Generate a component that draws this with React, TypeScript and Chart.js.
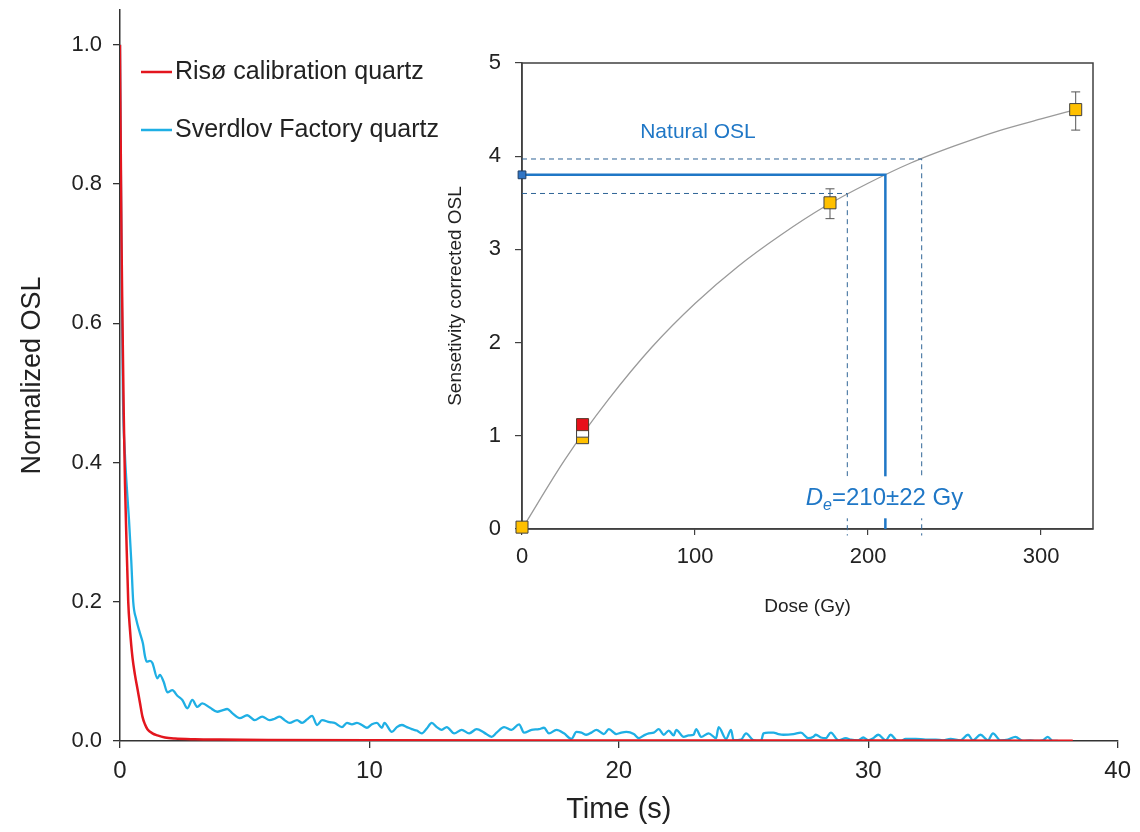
import React, { useEffect, useRef } from 'react';
import { Chart, registerables } from 'chart.js';

Chart.register(...registerables);

// ---------- Main chart data ----------
const seriesNames = ['Risø calibration quartz', 'Sverdlov Factory quartz'];

const timeRed = [0, 0.03, 0.06, 0.1, 0.15, 0.2, 0.25, 0.33, 0.4, 0.5, 0.6, 0.7, 0.8, 0.9, 1.0, 1.1, 1.3, 1.5, 1.8, 2.2, 3, 4, 6, 10, 20, 30, 38.2];
const oslRed = [1.0, 0.85, 0.72, 0.6, 0.47, 0.37, 0.3, 0.2, 0.16, 0.12, 0.095, 0.075, 0.055, 0.035, 0.024, 0.017, 0.011, 0.008, 0.005, 0.0035, 0.0025, 0.002, 0.0015, 0.001, 0.0008, 0.0006, 0.0005];

const timeBlue = [
  0, 0.04, 0.08, 0.12, 0.2, 0.3, 0.36, 0.45, 0.53, 0.65, 0.8, 0.92, 1.0, 1.07, 1.2, 1.3, 1.5, 1.6, 1.75, 1.9,
  2.1, 2.3, 2.5, 2.7, 2.9, 3.1, 3.3, 3.6, 3.9, 4.1, 4.3, 4.5, 4.8, 5.1, 5.4, 5.7, 6.0, 6.2, 6.4, 6.6,
  6.8, 7.1, 7.3, 7.5, 7.7, 7.9, 8.1, 8.4, 8.6, 8.9, 9.1, 9.3, 9.5, 9.7, 9.9, 10.1, 10.3, 10.5, 10.6, 10.9,
  11.1, 11.3, 11.5, 11.7, 11.9, 12.1, 12.3, 12.5, 12.7, 12.9, 13.1, 13.4, 13.7, 14.0, 14.3, 14.6, 14.9, 15.1, 15.4, 15.7,
  16.0, 16.2, 16.5, 16.8, 17.0, 17.2, 17.5, 17.8, 18.1, 18.3, 18.5, 18.7, 18.9, 19.1, 19.4, 19.6, 19.9, 20.1, 20.3, 20.6,
  20.8, 21.0, 21.2, 21.4, 21.6, 21.8, 22.0, 22.2, 22.3, 22.6, 22.8, 23.0, 23.1, 23.3, 23.6, 23.9, 24.0, 24.3, 24.5, 24.6,
  24.9, 25.1, 25.4, 25.7, 25.8, 26.0, 26.2, 26.4, 26.6, 27.0, 27.3, 27.6, 27.8, 27.9, 28.1, 28.3, 28.5, 28.8, 29.1, 29.3,
  29.6, 29.8, 30.0, 30.2, 30.4, 30.7, 30.9, 31.1, 31.3, 31.5, 31.9, 32.3, 32.7, 33.0, 33.3, 33.7, 34.0, 34.2, 34.5, 34.8,
  35.0, 35.3, 35.6, 35.9, 36.2, 36.5, 36.7, 37.0, 37.2, 37.4, 37.6
];
const oslBlue = [
  1.0, 0.8, 0.62, 0.49, 0.41, 0.35, 0.318, 0.26, 0.2, 0.175, 0.155, 0.14, 0.122, 0.114, 0.115, 0.112, 0.09, 0.095, 0.085, 0.07,
  0.073, 0.065, 0.059, 0.047, 0.059, 0.049, 0.054, 0.048, 0.042, 0.044, 0.046, 0.04, 0.033, 0.037, 0.03, 0.035, 0.03, 0.032, 0.035, 0.03,
  0.026, 0.03, 0.026, 0.031, 0.036, 0.023, 0.03, 0.027, 0.026, 0.02, 0.026, 0.024, 0.026, 0.023, 0.019, 0.024, 0.026, 0.019, 0.026, 0.013,
  0.02, 0.023, 0.02, 0.017, 0.015, 0.011, 0.018, 0.026, 0.02, 0.016, 0.02, 0.011, 0.016, 0.011, 0.017, 0.012, 0.006, 0.012, 0.02, 0.016,
  0.024, 0.012, 0.016, 0.017, 0.019, 0.011, 0.016, 0.011, 0.003, 0.013, 0.012, 0.009, 0.012, 0.016, 0.01, 0.017, 0.01, 0.012, 0.013, 0.01,
  0.004, 0.008, 0.011, 0.012, 0.017, 0.009, 0.015, 0.008, 0.016, 0.006, 0.008, 0.009, 0.017, 0.006, 0.011, 0.004, 0.02, 0.003, 0.016, 0.001,
  0.002, 0.011, 0.001, 0.0, 0.011, 0.012, 0.012, 0.01, 0.009, 0.01, 0.012, 0.004, 0.006, 0.009, 0.005, 0.004, 0.012, 0.001, 0.004, 0.002,
  0.001, 0.005, 0.001, 0.004, 0.009, 0.001, 0.009, 0.002, 0.0, 0.003, 0.003, 0.002, 0.002, 0.001, 0.003, 0.001, 0.009, 0.001, 0.009, 0.001,
  0.011, 0.001, 0.002, 0.006, 0.0, 0.001, 0.0, 0.001, 0.006, 0.0, 0.0
];

const mainXTicks = [0, 10, 20, 30, 40];
const mainYTicks = [0, 0.2, 0.4, 0.6, 0.8, 1.0];

// ---------- Inset (dose response) data ----------
const regenDose = [0, 35, 178, 320];
const regenOsl = [0.02, 0.98, 3.5, 4.5];
const regenErrLow = [0.02, 0.98, 3.33, 4.28];
const regenErrHigh = [0.02, 0.98, 3.65, 4.69];

const recycleDose = [35];
const recycleOsl = [1.12];
const zeroCheckDose = [35];
const zeroCheckOsl = [1.05];

const naturalDose = [0];
const naturalOsl = [3.8];

const fitDose = [0, 25, 50, 75, 100, 125, 150, 175, 200, 225, 250, 275, 300, 320];
const fitOsl = [0, 0.75, 1.39, 1.95, 2.42, 2.82, 3.16, 3.46, 3.71, 3.93, 4.11, 4.27, 4.40, 4.50];

const deValue = 210;
const deLow = 188;
const deHigh = 231;
const naturalLow = 3.6;
const naturalHigh = 3.97;

const insetXTicks = [0, 100, 200, 300];
const insetYTicks = [0, 1, 2, 3, 4, 5];

const FONT = "'Liberation Sans', Arial, sans-serif";
const RED = '#E3161E';
const CYAN = '#1FAFE4';
const GUIDE_BLUE = '#1F77C6';
const DASH_COLOR = '#2F6497';
const TEXT = '#222222';
const AXIS = '#333333';

const mainLegendPlugin = {
  id: 'mainLegend',
  afterDraw(chart: any) {
    const { ctx } = chart;
    const rows = [72, 130];
    ctx.save();
    chart.data.datasets.forEach((ds: any, i: number) => {
      const y = rows[i];
      ctx.strokeStyle = ds.borderColor;
      ctx.lineWidth = 2.5;
      ctx.beginPath();
      ctx.moveTo(141, y);
      ctx.lineTo(172, y);
      ctx.stroke();
      ctx.fillStyle = TEXT;
      ctx.font = `25px ${FONT}`;
      ctx.textBaseline = 'middle';
      ctx.textAlign = 'left';
      ctx.fillText(ds.label, 175, y);
    });
    ctx.restore();
  },
};

const insetPlugin = {
  id: 'insetDecor',
  beforeDatasetsDraw(chart: any) {
    const { ctx, chartArea, scales } = chart;
    const x = scales.x;
    const y = scales.y;
    ctx.save();
    ctx.strokeStyle = '#404040';
    ctx.lineWidth = 1.5;
    ctx.strokeRect(chartArea.left, chartArea.top, chartArea.right - chartArea.left, chartArea.bottom - chartArea.top);
    ctx.strokeStyle = '#555555';
    ctx.lineWidth = 1;
    regenDose.forEach((d, i) => {
      const lo = regenErrLow[i];
      const hi = regenErrHigh[i];
      if (hi - lo <= 0) return;
      const px = x.getPixelForValue(d);
      const p1 = y.getPixelForValue(lo);
      const p2 = y.getPixelForValue(hi);
      ctx.beginPath();
      ctx.moveTo(px, p1);
      ctx.lineTo(px, p2);
      ctx.moveTo(px - 4.5, p1);
      ctx.lineTo(px + 4.5, p1);
      ctx.moveTo(px - 4.5, p2);
      ctx.lineTo(px + 4.5, p2);
      ctx.stroke();
    });
    ctx.restore();
  },
  afterDatasetsDraw(chart: any) {
    const { ctx, scales } = chart;
    const x = scales.x;
    const y = scales.y;
    ctx.save();
    // Natural OSL label
    ctx.fillStyle = GUIDE_BLUE;
    ctx.font = `21px ${FONT}`;
    ctx.textAlign = 'center';
    ctx.textBaseline = 'middle';
    ctx.fillText('Natural OSL', x.getPixelForValue(101.7), y.getPixelForValue(4.26));

    // De label with white background
    const left = x.getPixelForValue(164);
    const cy = y.getPixelForValue(0.34);
    ctx.textAlign = 'left';
    ctx.textBaseline = 'alphabetic';
    ctx.font = `italic 24px ${FONT}`;
    const w1 = ctx.measureText('D').width;
    ctx.font = `italic 16px ${FONT}`;
    const w2 = ctx.measureText('e').width;
    ctx.font = `24px ${FONT}`;
    const rest = '=210±22 Gy';
    const w3 = ctx.measureText(rest).width;
    ctx.fillStyle = '#FFFFFF';
    ctx.fillRect(left - 2, cy - 21, w1 + w2 + w3 + 4, 42);
    ctx.fillStyle = GUIDE_BLUE;
    const base = cy + 8;
    ctx.font = `italic 24px ${FONT}`;
    ctx.fillText('D', left, base);
    ctx.font = `italic 16px ${FONT}`;
    ctx.fillText('e', left + w1, base + 5);
    ctx.font = `24px ${FONT}`;
    ctx.fillText(rest, left + w1 + w2, base);
    ctx.restore();
  },
};

const pts = (xs: number[], ys: number[]) => xs.map((v, i) => ({ x: v, y: ys[i] }));

export default function App() {
  const mainRef = useRef<HTMLCanvasElement>(null);
  const insetRef = useRef<HTMLCanvasElement>(null);

  useEffect(() => {
    if (!mainRef.current || !insetRef.current) return;

    const main = new Chart(mainRef.current, {
      type: 'line',
      data: {
        datasets: [
          {
            label: seriesNames[0],
            data: pts(timeRed, oslRed),
            borderColor: RED,
            borderWidth: 2.5,
            pointRadius: 0,
            cubicInterpolationMode: 'monotone',
            fill: false,
          },
          {
            label: seriesNames[1],
            data: pts(timeBlue, oslBlue),
            borderColor: CYAN,
            borderWidth: 2.3,
            pointRadius: 0,
            cubicInterpolationMode: 'monotone',
            fill: false,
          },
        ],
      } as any,
      options: {
        animation: false,
        responsive: false,
        devicePixelRatio: 1,
        layout: { padding: { left: 0, right: 22, top: 10, bottom: 0 } },
        plugins: { legend: { display: false }, tooltip: { enabled: false } },
        scales: {
          x: {
            type: 'linear',
            min: 0,
            max: 40,
            afterBuildTicks: (s: any) => { s.ticks = mainXTicks.map((v) => ({ value: v })); },
            afterFit: (s: any) => { s.height = 91; },
            grid: { display: true, drawOnChartArea: false, drawTicks: true, tickLength: 7, color: AXIS, lineWidth: 1.3 },
            border: { display: true, color: AXIS, width: 1.5 },
            ticks: { font: { family: FONT, size: 24 }, color: TEXT, padding: 9, maxRotation: 0 },
            title: { display: true, text: 'Time (s)', font: { family: FONT, size: 29 }, color: TEXT, padding: { top: 0, bottom: 5 } },
          },
          y: {
            type: 'linear',
            min: 0,
            max: 1.05,
            afterBuildTicks: (s: any) => { s.ticks = mainYTicks.map((v) => ({ value: v })); },
            afterFit: (s: any) => { s.width = 120; s.paddingTop = 0; s.paddingBottom = 0; },
            grid: { display: true, drawOnChartArea: false, drawTicks: true, tickLength: 7, color: AXIS, lineWidth: 1.3 },
            border: { display: true, color: AXIS, width: 1.5 },
            ticks: { font: { family: FONT, size: 22 }, color: TEXT, padding: 11, callback: (v: any) => Number(v).toFixed(1) },
            title: { display: true, text: 'Normalized OSL', font: { family: FONT, size: 27 }, color: TEXT, padding: { top: 16, bottom: 0 } },
          },
        },
      } as any,
      plugins: [mainLegendPlugin],
    });

    const inset = new Chart(insetRef.current, {
      type: 'line',
      data: {
        datasets: [
          {
            label: 'Recycling',
            data: pts(recycleDose, recycleOsl),
            showLine: false,
            pointStyle: 'rect',
            pointRadius: 8.5,
            backgroundColor: '#E8101A',
            borderColor: '#5a3a2a',
            borderWidth: 1,
            clip: false,
          },
          {
            label: 'Recycling 2',
            data: pts(zeroCheckDose, zeroCheckOsl),
            showLine: false,
            pointStyle: 'rect',
            pointRadius: 8.5,
            backgroundColor: '#FFFFFF',
            borderColor: '#404040',
            borderWidth: 1,
            clip: false,
          },
          {
            label: 'Regenerated',
            data: pts(regenDose, regenOsl),
            showLine: false,
            pointStyle: 'rect',
            pointRadius: 8.5,
            backgroundColor: '#FFC000',
            borderColor: '#404040',
            borderWidth: 1,
            clip: false,
          },
          {
            label: 'Natural',
            data: pts(naturalDose, naturalOsl),
            showLine: false,
            pointStyle: 'rect',
            pointRadius: 5.5,
            backgroundColor: '#2E75C6',
            borderColor: '#1F3F66',
            borderWidth: 1,
            clip: false,
          },
          {
            label: 'De',
            data: [
              { x: 0, y: naturalOsl[0] },
              { x: deValue, y: naturalOsl[0] },
              { x: deValue, y: 0 },
            ],
            borderColor: GUIDE_BLUE,
            borderWidth: 2.5,
            pointRadius: 0,
            tension: 0,
            clip: false,
          },
          {
            label: 'De high',
            data: [
              { x: 0, y: naturalHigh },
              { x: deHigh, y: naturalHigh },
              { x: deHigh, y: -0.07 },
            ],
            borderColor: DASH_COLOR,
            borderWidth: 1,
            borderDash: [5, 4],
            pointRadius: 0,
            tension: 0,
            clip: false,
          },
          {
            label: 'De low',
            data: [
              { x: 0, y: naturalLow },
              { x: deLow, y: naturalLow },
              { x: deLow, y: -0.07 },
            ],
            borderColor: DASH_COLOR,
            borderWidth: 1,
            borderDash: [5, 4],
            pointRadius: 0,
            tension: 0,
            clip: false,
          },
          {
            label: 'Fit',
            data: pts(fitDose, fitOsl),
            borderColor: '#9A9A9A',
            borderWidth: 1.3,
            pointRadius: 0,
            cubicInterpolationMode: 'monotone',
            clip: false,
          },
        ],
      } as any,
      options: {
        animation: false,
        responsive: false,
        devicePixelRatio: 1,
        layout: { padding: { left: 0, right: 29, top: 33, bottom: 0 } },
        plugins: { legend: { display: false }, tooltip: { enabled: false } },
        scales: {
          x: {
            type: 'linear',
            min: 0,
            max: 330,
            afterBuildTicks: (s: any) => { s.ticks = insetXTicks.map((v) => ({ value: v })); },
            afterFit: (s: any) => { s.height = 101; },
            grid: { display: true, drawOnChartArea: false, drawTicks: true, tickLength: 6, color: '#404040', lineWidth: 1.2 },
            border: { display: true, color: '#404040', width: 1.5 },
            ticks: { font: { family: FONT, size: 22 }, color: TEXT, padding: 9, maxRotation: 0 },
            title: { display: true, text: 'Dose (Gy)', font: { family: FONT, size: 19 }, color: TEXT, padding: { top: 0, bottom: 12 } },
          },
          y: {
            type: 'linear',
            min: 0,
            max: 5,
            afterBuildTicks: (s: any) => { s.ticks = insetYTicks.map((v) => ({ value: v })); },
            afterFit: (s: any) => { s.width = 90; },
            grid: { display: true, drawOnChartArea: false, drawTicks: true, tickLength: 7, color: '#404040', lineWidth: 1.2 },
            border: { display: true, color: '#404040', width: 1.5 },
            ticks: { font: { family: FONT, size: 22 }, color: TEXT, padding: 14 },
            title: { display: true, text: 'Sensetivity corrected OSL', font: { family: FONT, size: 19 }, color: TEXT, padding: { top: 12, bottom: 0 } },
          },
        },
      } as any,
      plugins: [insetPlugin],
    });

    return () => {
      main.destroy();
      inset.destroy();
    };
  }, []);

  return (
    <div style={{ position: 'absolute', left: 0, top: 0, width: 1140, height: 832, background: '#FFFFFF' }}>
      <canvas ref={mainRef} width={1140} height={832} style={{ position: 'absolute', left: 0, top: 0 }} />
      <canvas ref={insetRef} width={690} height={600} style={{ position: 'absolute', left: 432, top: 30 }} />
    </div>
  );
}
